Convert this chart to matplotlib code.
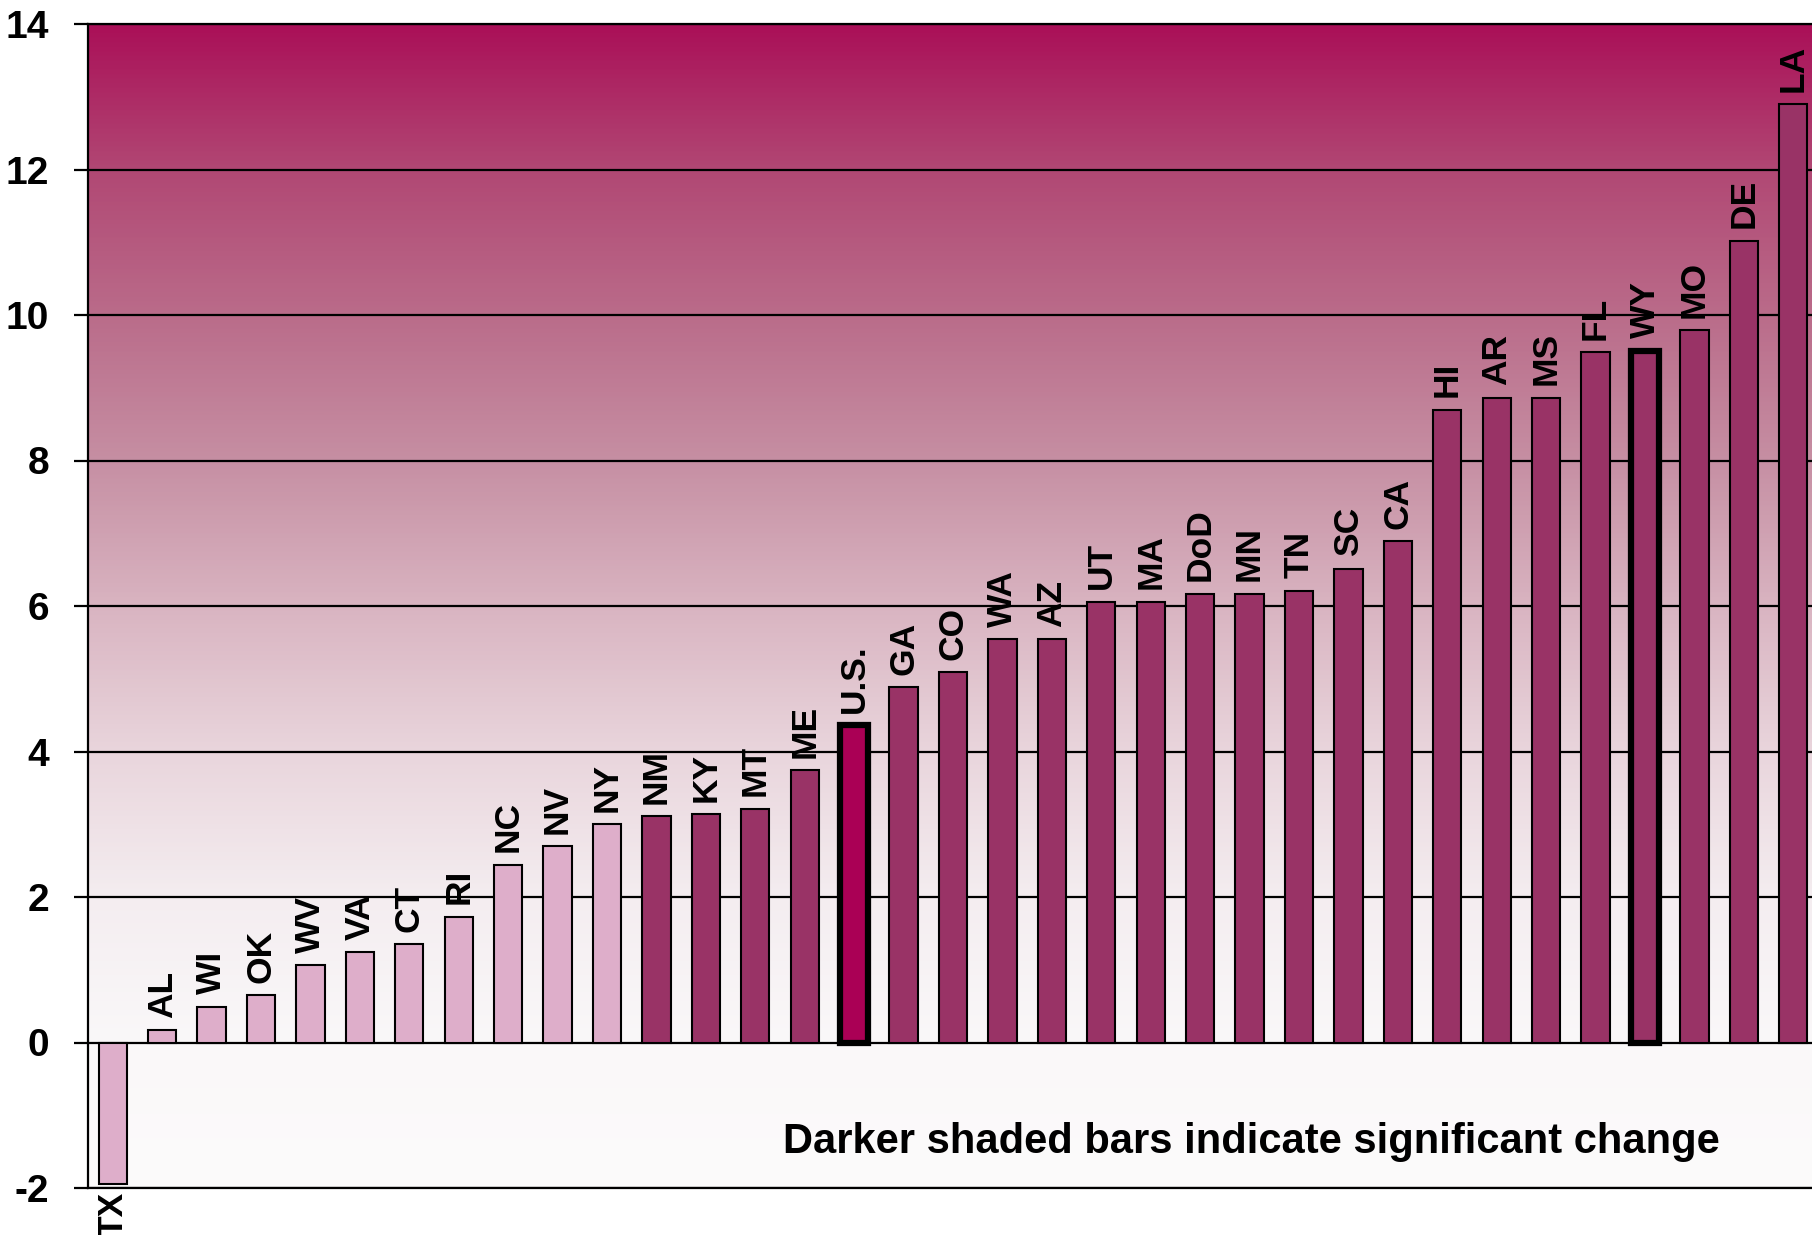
import numpy as np
import matplotlib
matplotlib.use("Agg")
import matplotlib.pyplot as plt
from matplotlib.colors import LinearSegmentedColormap
from matplotlib import font_manager

# ── data ────────────────────────────────────────────────────────────────────
STATES = ["TX", "AL", "WI", "OK", "WV", "VA", "CT", "RI", "NC", "NV", "NY",
          "NM", "KY", "MT", "ME", "U.S.", "GA", "CO", "WA", "AZ", "UT", "MA",
          "DoD", "MN", "TN", "SC", "CA", "HI", "AR", "MS", "FL", "WY", "MO",
          "DE", "LA"]
CHANGE = [-1.95, 0.17, 0.49, 0.65, 1.06, 1.24, 1.35, 1.73, 2.44, 2.70, 3.00,
          3.11, 3.14, 3.21, 3.74, 4.36, 4.88, 5.09, 5.54, 5.54, 6.06, 6.06,
          6.17, 6.17, 6.21, 6.51, 6.89, 8.70, 8.86, 8.86, 9.49, 9.51, 9.79,
          11.02, 12.90]
SIGNIFICANT = [False] * 11 + [True] * 24
HIGHLIGHT = ["U.S.", "WY"]
Y_TICKS = [-2, 0, 2, 4, 6, 8, 10, 12, 14]
NOTE = "Darker shaded bars indicate significant change"

# ── style ───────────────────────────────────────────────────────────────────
LIGHT = "#DEAECA"
DARK = "#993366"
US_COLOR = "#AA0055"

installed = {f.name for f in font_manager.fontManager.ttflist}
NARROW = ["Liberation Sans Narrow", "Liberation Sans", "DejaVu Sans"]
if "Liberation Sans Narrow" not in installed:
    NARROW = ["Liberation Sans", "DejaVu Sans"]
plt.rcParams["font.family"] = ["Liberation Sans", "DejaVu Sans"]

# background gradient stops (data y -> rgb)
GRAD = [(-2, (252, 251, 251)), (0, (250, 248, 249)), (2, (244, 237, 240)),
        (4, (233, 213, 220)), (6, (217, 180, 193)), (8, (198, 143, 163)),
        (10, (186, 108, 138)), (12, (177, 72, 116)), (14, (170, 16, 88))]


def main() -> None:
    fig = plt.figure(figsize=(18.12, 12.35), dpi=100)
    ax = fig.add_axes([88 / 1812, 47 / 1235, 1730 / 1812, 1164 / 1235])

    n = len(STATES)
    x = np.arange(n)
    ax.set_xlim(-0.5, n - 0.5)
    ax.set_ylim(-2, 14)

    # gradient background
    lo, hi = GRAD[0][0], GRAD[-1][0]
    cmap = LinearSegmentedColormap.from_list(
        "bg", [((y - lo) / (hi - lo), tuple(c / 255 for c in rgb)) for y, rgb in GRAD])
    grad = np.linspace(0, 1, 512).reshape(-1, 1)
    ax.imshow(grad, cmap=cmap, aspect="auto", origin="lower",
              extent=(-0.5, n - 0.5, -2, 14), zorder=0)

    for yv in Y_TICKS:
        ax.axhline(yv, color="black", linewidth=1.6, zorder=1)

    colors = []
    for s, sig in zip(STATES, SIGNIFICANT):
        if s == "U.S.":
            colors.append(US_COLOR)
        else:
            colors.append(DARK if sig else LIGHT)
    widths = [4.5 if s in HIGHLIGHT else 1.5 for s in STATES]
    ax.bar(x, CHANGE, width=0.57, color=colors, edgecolor="black",
           linewidth=widths, zorder=2)

    for xi, v, s in zip(x, CHANGE, STATES):
        if v >= 0:
            ax.annotate(s, (xi, v), xytext=(0, 9), textcoords="offset points",
                        rotation=90, ha="center", va="bottom", fontsize=25.5,
                        fontweight="bold", zorder=3)
        else:
            ax.annotate(s, (xi, -2), xytext=(0, -3), textcoords="offset points",
                        rotation=90, ha="center", va="top", fontsize=25.5,
                        fontweight="bold", zorder=3, annotation_clip=False)

    ax.text(1251 / 1812, 1 - 1142 / 1235, NOTE, transform=fig.transFigure,
            ha="center", va="center", fontsize=30, fontweight="bold",
            family=NARROW)

    ax.set_xticks([])
    ax.set_yticks(Y_TICKS)
    ax.set_yticklabels([str(t) for t in Y_TICKS], fontsize=28,
                       fontweight="bold", family=NARROW)
    ax.tick_params(axis="y", length=10, width=1.6, pad=18, direction="out")
    for side in ["left", "bottom", "top"]:
        ax.spines[side].set_linewidth(1.6)
        ax.spines[side].set_zorder(4)
    ax.spines["right"].set_visible(False)

    fig.savefig("out.png", dpi=100)


if __name__ == "__main__":
    main()
